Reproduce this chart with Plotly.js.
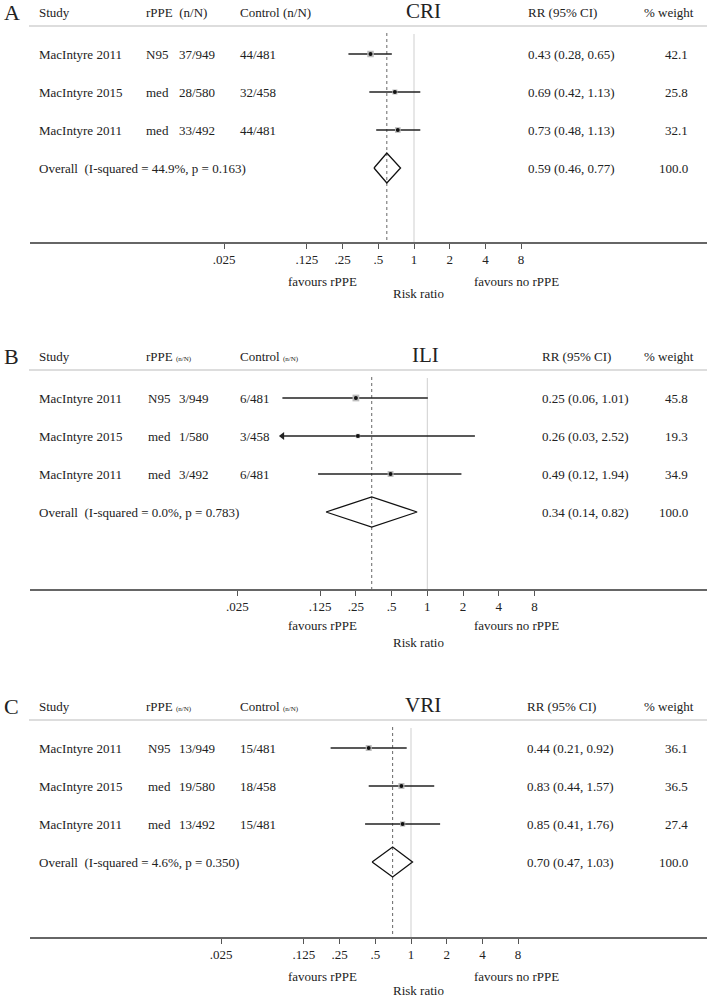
<!DOCTYPE html>
<html>
<head>
<meta charset="utf-8">
<script src="https://cdn.plot.ly/plotly-3.0.1.min.js"></script>
<style>
  html, body { margin: 0; padding: 0; background: #fff; }
  #chart { width: 714px; height: 998px; }
</style>
</head>
<body>
<div id="chart"></div>
<script>
// ---- data ----
const studies = ['MacIntyre 2011', 'MacIntyre 2015', 'MacIntyre 2011'];
const maskType = ['N95', 'med', 'med'];
const outcomes = ['CRI', 'ILI', 'VRI'];
const panelLetters = ['A', 'B', 'C'];

const criRppe = ['37/949', '28/580', '33/492'];
const criControl = ['44/481', '32/458', '44/481'];
const criRR = [0.43, 0.69, 0.73];
const criLo = [0.28, 0.42, 0.48];
const criHi = [0.65, 1.13, 1.13];
const criWeight = [42.1, 25.8, 32.1];
const criOverall = [0.59, 0.46, 0.77];
const criI2 = 44.9, criP = '0.163';

const iliRppe = ['3/949', '1/580', '3/492'];
const iliControl = ['6/481', '3/458', '6/481'];
const iliRR = [0.25, 0.26, 0.49];
const iliLo = [0.06, 0.03, 0.12];
const iliHi = [1.01, 2.52, 1.94];
const iliWeight = [45.8, 19.3, 34.9];
const iliOverall = [0.34, 0.14, 0.82];
const iliI2 = 0.0, iliP = '0.783';

const vriRppe = ['13/949', '19/580', '13/492'];
const vriControl = ['15/481', '18/458', '15/481'];
const vriRR = [0.44, 0.83, 0.85];
const vriLo = [0.21, 0.44, 0.41];
const vriHi = [0.92, 1.57, 1.76];
const vriWeight = [36.1, 36.5, 27.4];
const vriOverall = [0.70, 0.47, 1.03];
const vriI2 = 4.6, vriP = '0.350';

const tickVals = [0.025, 0.125, 0.25, 0.5, 1, 2, 4, 8];
const tickText = ['.025', '.125', '.25', '.5', '1', '2', '4', '8'];
const ciClipLow = 0.06; // CIs below this are cut and drawn as arrows

const panels = [
    { rppe: criRppe, control: criControl, rr: criRR, lo: criLo, hi: criHi, w: criWeight, ov: criOverall, i2: criI2, p: criP },
    { rppe: iliRppe, control: iliControl, rr: iliRR, lo: iliLo, hi: iliHi, w: iliWeight, ov: iliOverall, i2: iliI2, p: iliP },
    { rppe: vriRppe, control: vriControl, rr: vriRR, lo: vriLo, hi: vriHi, w: vriWeight, ov: vriOverall, i2: vriI2, p: vriP },
];

// ---- page geometry (pixels) ----
const W = 714, H = 998;
const FONT = '"Liberation Serif", "Times New Roman", Times, serif';
const TXT = '#222';
const rowGap = 38;
const pxPerDecade = 118.6;
const axLeft = 30, axRight = 707;
const geo = [
    { top: 0,   row1: 54,  axis: 242, one: 414,   rrX: 526, title: 423, fav: 281, rlab: 294 },
    { top: 340, row1: 398, axis: 589, one: 427.3, rrX: 540, title: 425, fav: 625, rlab: 642 },
    { top: 690, row1: 748, axis: 937, one: 411,   rrX: 525, title: 423, fav: 976, rlab: 990 },
];

const px = v => v / W;
const py = v => 1 - v / H;

let traces = [];
let shapes = [];
let annotations = [];
let layout = {
    width: W, height: H,
    margin: { l: 0, r: 0, t: 0, b: 0, pad: 0 },
    paper_bgcolor: '#ffffff',
    plot_bgcolor: '#ffffff',
    showlegend: false,
    font: { family: FONT, size: 13, color: TXT },
};

function txt(text, x, xref, y, yref, opts) {
    return Object.assign({
        text: text, x: x, y: y, xref: xref, yref: yref,
        showarrow: false, xanchor: 'left', yanchor: 'middle',
        font: { family: FONT, size: 13, color: TXT },
    }, opts || {});
}

panels.forEach(function (d, k) {
    const g = geo[k];
    const n = k === 0 ? '' : String(k + 1);
    const xa = 'x' + n, ya = 'y' + n;
    // row index -> pixel: row r at g.row1 + (r-1)*rowGap
    const yOf = p => 1 + (p - g.row1) / rowGap;
    const yBottom = yOf(g.axis), yTop = yOf(g.top);

    layout['xaxis' + n] = {
        type: 'log',
        domain: [px(axLeft), px(axRight)],
        range: [-(g.one - axLeft) / pxPerDecade, (axRight - g.one) / pxPerDecade],
        anchor: ya,
        showgrid: false, zeroline: false,
        showline: true, linecolor: '#666', linewidth: 1.5,
        ticks: 'outside', ticklen: 5, tickcolor: '#555', tickwidth: 1,
        tickvals: tickVals, ticktext: tickText,
        tickfont: { family: FONT, size: 13, color: TXT },
        ticklabelstandoff: 0,
        fixedrange: true,
    };
    layout['yaxis' + n] = {
        domain: [py(g.axis), py(g.top)],
        range: [yBottom, yTop],
        anchor: xa,
        visible: false, showgrid: false, zeroline: false,
        fixedrange: true,
    };

    // header
    const hy = yOf(g.row1 - 42);
    annotations.push(txt(panelLetters[k], px(2), 'paper', hy, ya, { font: { family: FONT, size: 22, color: TXT } }));
    annotations.push(txt('Study', px(37), 'paper', hy, ya));
    if (k === 0) {
        annotations.push(txt('rPPE&nbsp;&nbsp;(n/N)', px(144), 'paper', hy, ya));
        annotations.push(txt('Control (n/N)', px(238), 'paper', hy, ya));
    } else {
        annotations.push(txt('rPPE <span style="font-size:7px">(n/N)</span>', px(144), 'paper', hy, ya));
        annotations.push(txt('Control <span style="font-size:7px">(n/N)</span>', px(238), 'paper', hy, ya));
    }
    annotations.push(txt(outcomes[k], px(g.title), 'paper', yOf(g.row1 - 43), ya,
        { xanchor: 'center', font: { family: FONT, size: 21, color: TXT } }));
    annotations.push(txt('RR (95% CI)', px(g.rrX), 'paper', hy, ya));
    annotations.push(txt('% weight', px(642), 'paper', hy, ya));

    shapes.push({ type: 'line', xref: 'paper', yref: ya, x0: px(29), x1: px(707),
        y0: yOf(g.row1 - 28), y1: yOf(g.row1 - 28), line: { color: '#d2d2d2', width: 1.5 } });

    // reference lines
    shapes.push({ type: 'line', layer: 'below', xref: xa, yref: ya, x0: 1, x1: 1,
        y0: yOf(g.row1 - 20), y1: yBottom, line: { color: '#cfcfcf', width: 1 } });
    shapes.push({ type: 'line', layer: 'below', xref: xa, yref: ya, x0: d.ov[0], x1: d.ov[0],
        y0: yOf(g.row1 - 21), y1: yBottom, line: { color: '#666', width: 1, dash: '3px,3px' } });

    // study rows
    studies.forEach(function (s, i) {
        const r = i + 1;
        annotations.push(txt(s, px(37), 'paper', r, ya));
        annotations.push(txt(maskType[i], px(k === 0 ? 144 : 146), 'paper', r, ya));
        annotations.push(txt(d.rppe[i], px(176.7), 'paper', r, ya));
        annotations.push(txt(d.control[i], px(238), 'paper', r, ya));
        annotations.push(txt(d.rr[i].toFixed(2) + ' (' + d.lo[i].toFixed(2) + ', ' + d.hi[i].toFixed(2) + ')',
            px(g.rrX), 'paper', r, ya));
        annotations.push(txt(d.w[i].toFixed(1), px(690), 'paper', r, ya, { xanchor: 'right' }));

        const clipped = d.lo[i] < ciClipLow;
        const x0 = clipped ? ciClipLow : d.lo[i];
        traces.push({ type: 'scatter', mode: 'lines', xaxis: xa, yaxis: ya,
            x: [x0, d.hi[i]], y: [r, r], line: { color: '#222', width: 1.5 }, hoverinfo: 'skip' });
        if (clipped) {
            traces.push({ type: 'scatter', mode: 'markers', xaxis: xa, yaxis: ya,
                x: [x0], y: [r], marker: { symbol: 'triangle-left', size: 7, color: '#222' }, hoverinfo: 'skip' });
        }
        traces.push({ type: 'scatter', mode: 'markers', xaxis: xa, yaxis: ya,
            x: [d.rr[i]], y: [r], marker: { symbol: 'square', size: Math.sqrt(d.w[i]) * 1.0, color: '#bdbdbd' },
            hoverinfo: 'skip' });
        traces.push({ type: 'scatter', mode: 'markers', xaxis: xa, yaxis: ya,
            x: [d.rr[i]], y: [r], marker: { symbol: 'circle', size: 4, color: '#111' }, hoverinfo: 'skip' });
    });

    // overall row
    annotations.push(txt('Overall&nbsp;&nbsp;(I-squared = ' + d.i2.toFixed(1) + '%, p = ' + d.p + ')',
        px(37), 'paper', 4, ya));
    annotations.push(txt(d.ov[0].toFixed(2) + ' (' + d.ov[1].toFixed(2) + ', ' + d.ov[2].toFixed(2) + ')',
        px(g.rrX), 'paper', 4, ya));
    annotations.push(txt('100.0', px(690), 'paper', 4, ya, { xanchor: 'right' }));
    const hh = 15 / rowGap;
    traces.push({ type: 'scatter', mode: 'lines', xaxis: xa, yaxis: ya,
        x: [d.ov[1], d.ov[0], d.ov[2], d.ov[0], d.ov[1]],
        y: [4, 4 - hh, 4, 4 + hh, 4],
        line: { color: '#111', width: 1.3 }, hoverinfo: 'skip' });

    // axis captions
    annotations.push(txt('favours rPPE', px(322), 'paper', py(g.fav), 'paper', { xanchor: 'center' }));
    annotations.push(txt('favours no rPPE', px(516), 'paper', py(g.fav), 'paper', { xanchor: 'center' }));
    annotations.push(txt('Risk ratio', px(418), 'paper', py(g.rlab), 'paper', { xanchor: 'center' }));
});

layout.shapes = shapes;
layout.annotations = annotations;

Plotly.newPlot('chart', traces, layout, { staticPlot: true });
</script>
</body>
</html>
